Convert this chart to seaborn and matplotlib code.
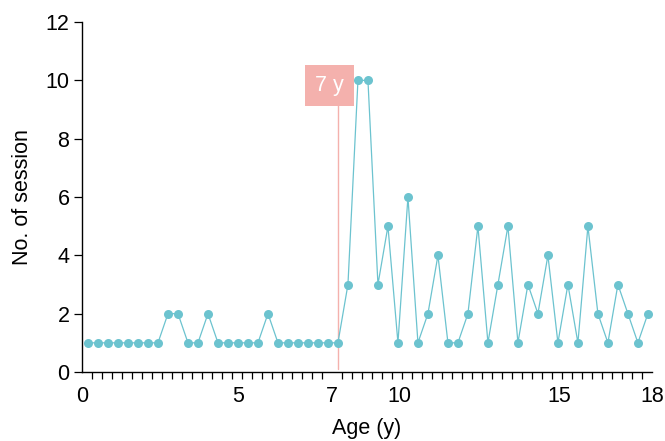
import matplotlib
matplotlib.use("Agg")
import matplotlib.pyplot as plt
import seaborn as sns
import numpy as np
import pandas as pd

# sessions per visit, in order (index axis)
sessions = [1, 1, 1, 1, 1, 1, 1, 1, 2, 2, 1, 1, 2, 1, 1, 1, 1, 1, 2, 1,
            1, 1, 1, 1, 1, 1, 3, 10, 10, 3, 5, 1, 6, 1, 2, 4, 1, 1, 2, 5,
            1, 3, 5, 1, 3, 2, 4, 1, 3, 1, 5, 2, 1, 3, 2, 1, 2]
marker_index = 25
marker_label = "7 y"
age_tick_pos = [0, 15.6, 25.0, 31.7, 47.7, 57]
age_tick_labels = ["0", "5", "7", "10", "15", "18"]

line_color = "#6cc3cf"
pink = "#f4b1ad"
fs = 15.5

sns.set_style("ticks", {'axes.edgecolor': 'black', 'text.color': 'black',
                        'axes.labelcolor': 'black', 'xtick.color': 'black',
                        'ytick.color': 'black'})
plt.rcParams['font.family'] = ['Liberation Sans', 'DejaVu Sans']

df = pd.DataFrame({'idx': np.arange(len(sessions)) + 0.6, 'sessions': sessions})

fig = plt.figure(figsize=(6.65, 4.41), dpi=100)
ax = fig.add_axes([0.1233, 0.1565, 0.857, 0.7935])

vx = df['idx'].iloc[marker_index]
ax.plot([vx, vx], [0.1, 9.2], color=pink, lw=1.0, zorder=1)
ax.text(vx - 0.85, 9.82, marker_label, color='white', fontsize=fs, ha='center', va='center',
        bbox=dict(boxstyle='square,pad=0.45', fc=pink, ec='none'), zorder=3)

sns.lineplot(data=df, x='idx', y='sessions', color=line_color, marker='o',
             markersize=6.5, markeredgewidth=0, linewidth=0.9, ax=ax, zorder=2)

ax.set_xlim(0, 57)
ax.set_ylim(0, 12)
ax.set_yticks(range(0, 13, 2))
ax.set_xticks(age_tick_pos)
ax.set_xticklabels(age_tick_labels)
ax.set_xticks(np.arange(0, 58), minor=True)
ax.tick_params(axis='x', which='major', length=0, pad=10, labelsize=fs)
ax.tick_params(axis='x', which='minor', length=5, width=0.9, direction='out')
ax.tick_params(axis='y', length=6, width=0.9, labelsize=fs, pad=3)
for s in ['left', 'bottom']:
    ax.spines[s].set_linewidth(1.0)
sns.despine(ax=ax)

ax.set_xlabel("Age (y)", fontsize=fs, labelpad=8)
ax.set_ylabel("No. of session", fontsize=fs, labelpad=9)

fig.savefig("out.png", dpi=100)
